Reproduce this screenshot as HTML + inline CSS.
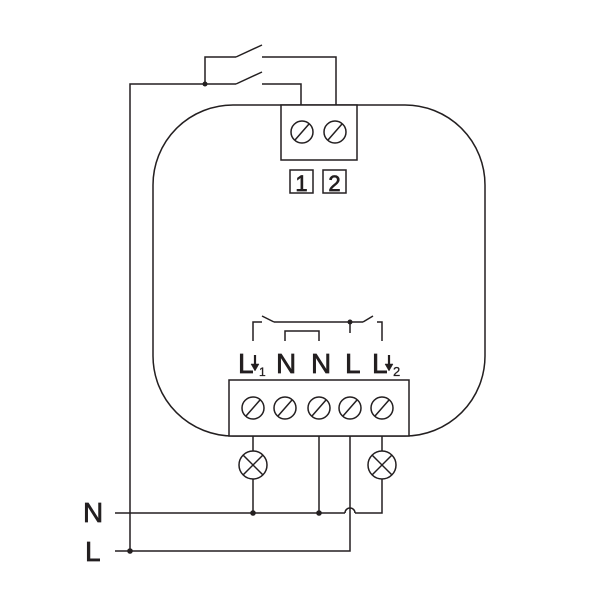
<!DOCTYPE html>
<html><head><meta charset="utf-8"><style>html,body{margin:0;padding:0;background:#fff}svg{display:block}</style></head>
<body>
<svg width="600" height="600" viewBox="0 0 600 600" xmlns="http://www.w3.org/2000/svg">
<g fill="none" stroke="#231f20" stroke-width="1.5">
<rect x="153" y="105" width="332" height="331" rx="80" ry="80"/>
<polyline points="130,551 130,84 236,84"/>
<line x1="236" y1="84" x2="262" y2="72"/>
<polyline points="262,84 301,84 301,105"/>
<polyline points="205,84 205,57 236,57"/>
<line x1="236" y1="57" x2="262" y2="45"/>
<polyline points="262,57 336,57 336,105"/>
<rect x="281" y="105" width="76" height="55" fill="#fff"/>
<circle cx="302" cy="132" r="11"/><line x1="295" y1="140" x2="309" y2="124"/>
<circle cx="335" cy="132" r="11"/><line x1="328" y1="140" x2="342" y2="124"/>
<rect x="290" y="170" width="23" height="23"/>
<rect x="323" y="170" width="23" height="23"/>
<polyline points="253,341 253,322 262,322"/>
<line x1="262" y1="316" x2="274" y2="322"/>
<polyline points="274,322 363,322"/>
<line x1="363" y1="322" x2="373" y2="316"/>
<polyline points="377,322 382,322 382,341"/>
<line x1="350" y1="322" x2="350" y2="333"/>
<polyline points="285,341 285,331 319,331 319,341"/>
<rect x="229" y="380" width="180" height="56" fill="#fff"/>
<g>
<circle cx="253" cy="408" r="11"/><line x1="246" y1="416" x2="260" y2="400"/>
<circle cx="285" cy="408" r="11"/><line x1="278" y1="416" x2="292" y2="400"/>
<circle cx="319" cy="408" r="11"/><line x1="312" y1="416" x2="326" y2="400"/>
<circle cx="350" cy="408" r="11"/><line x1="343" y1="416" x2="357" y2="400"/>
<circle cx="382" cy="408" r="11"/><line x1="375" y1="416" x2="389" y2="400"/>
</g>
<line x1="253" y1="436" x2="253" y2="451"/>
<circle cx="253" cy="465" r="14"/>
<line x1="243" y1="455" x2="263" y2="475"/><line x1="263" y1="455" x2="243" y2="475"/>
<line x1="253" y1="479" x2="253" y2="513"/>
<line x1="382" y1="436" x2="382" y2="451"/>
<circle cx="382" cy="465" r="14"/>
<line x1="372" y1="455" x2="392" y2="475"/><line x1="392" y1="455" x2="372" y2="475"/>
<polyline points="382,479 382,513 355,513"/>
<path d="M355,513 A5,5 0 0 0 345,513"/>
<line x1="345" y1="513" x2="115" y2="513"/>
<line x1="319" y1="436" x2="319" y2="513"/>
<polyline points="350,436 350,551 115,551"/>
</g>
<g fill="#231f20">
<circle cx="205" cy="84" r="2.5"/>
<circle cx="350" cy="322" r="2.5"/>
<circle cx="253" cy="513" r="2.8"/>
<circle cx="319" cy="513" r="2.8"/>
<circle cx="130" cy="551" r="2.8"/>
</g>
<g font-family="Liberation Sans, sans-serif" fill="#231f20" stroke="#231f20" stroke-width="0.7">
<text x="301.5" y="191" font-size="22" text-anchor="middle">1</text>
<text x="334.5" y="191" font-size="22" text-anchor="middle">2</text>
<text x="238" y="373" font-size="28">L</text>
<text x="259" y="376" font-size="12" stroke-width="0.3">1</text>
<text x="276" y="373" font-size="28">N</text>
<text x="311" y="373" font-size="28">N</text>
<text x="345" y="373" font-size="28">L</text>
<text x="372" y="373" font-size="28">L</text>
<text x="393" y="376" font-size="13" stroke-width="0.3">2</text>
<text x="83" y="522" font-size="28">N</text>
<text x="85" y="561" font-size="28">L</text>
</g>
<g stroke="#231f20" stroke-width="2.2" fill="#231f20">
<line x1="255" y1="355" x2="255" y2="366"/>
<path d="M251,364 L259,364 L255,371 Z" stroke-width="0.5"/>
<line x1="389" y1="355" x2="389" y2="366"/>
<path d="M385,364 L393,364 L389,371 Z" stroke-width="0.5"/>
</g>
</svg>
</body></html>
